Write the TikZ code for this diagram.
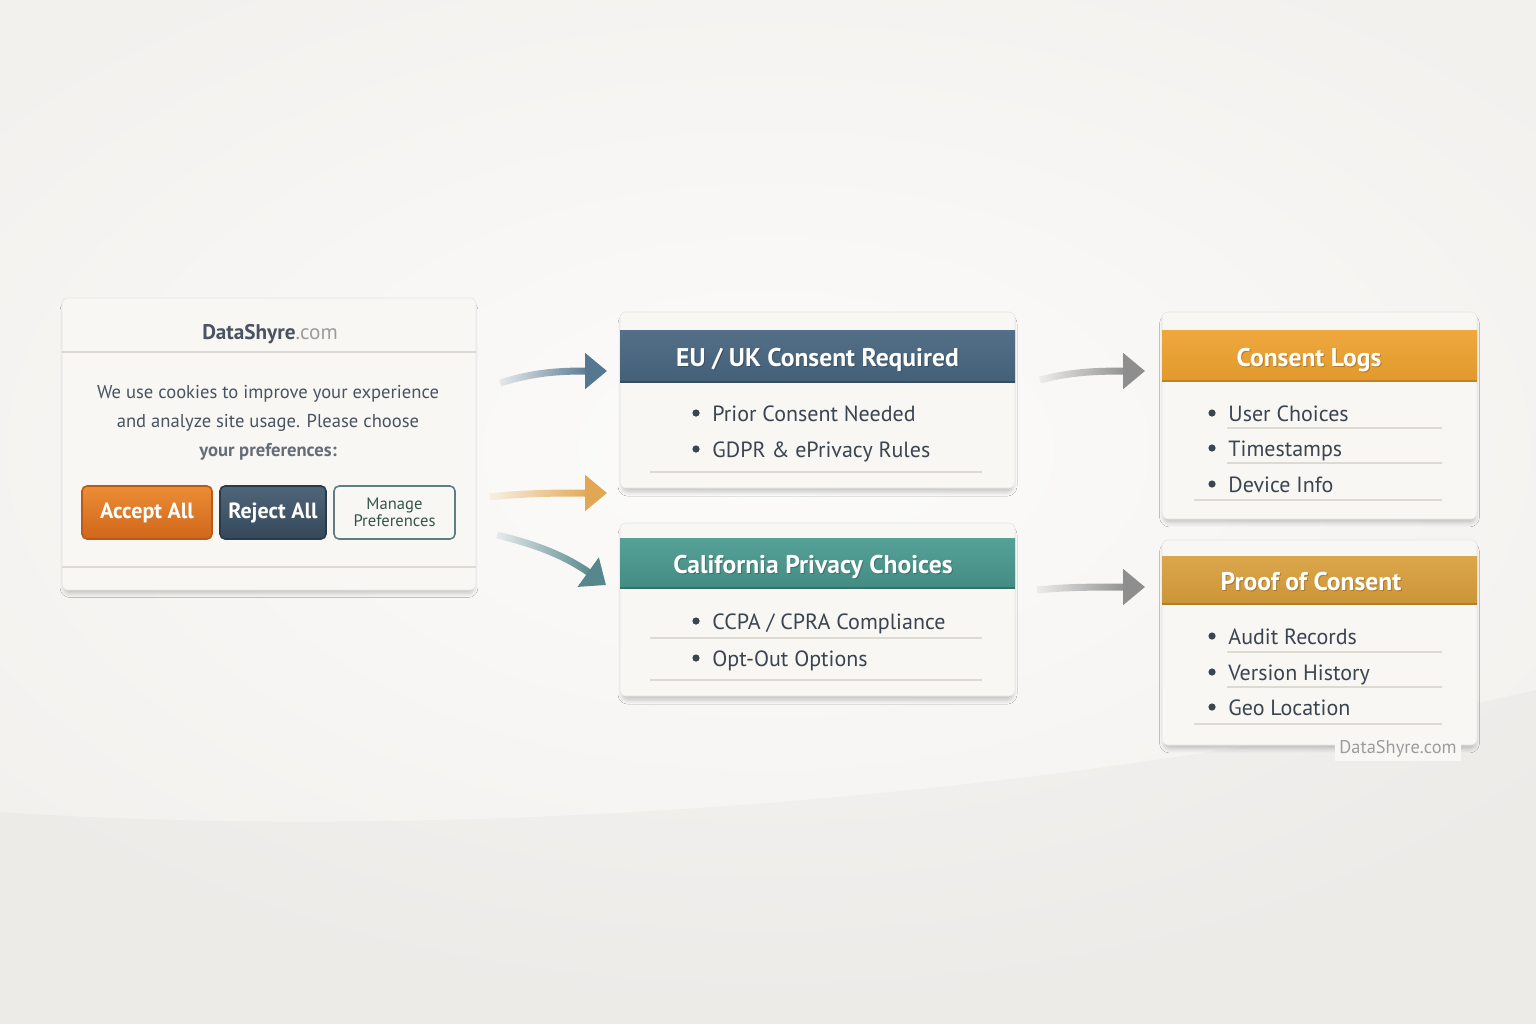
\documentclass[tikz,border=0pt]{standalone}
\usepackage{fontspec}
\setmainfont{PT Sans}
\usetikzlibrary{shadows.blur,fadings,arrows.meta,calc}
\definecolor{bgc}{HTML}{F3F1EE}
\definecolor{cardc}{HTML}{F8F7F4}
\definecolor{ink}{HTML}{3B4451}
\definecolor{slate}{HTML}{4A5361}
\definecolor{comgray}{HTML}{9C9C9C}
\definecolor{sepc}{HTML}{DDDAD4}
\definecolor{euA}{HTML}{546F88}
\definecolor{euB}{HTML}{445F78}
\definecolor{caA}{HTML}{56A197}
\definecolor{caB}{HTML}{438C83}
\definecolor{logA}{HTML}{EEA83E}
\definecolor{logB}{HTML}{E2992C}
\definecolor{prA}{HTML}{DCA74C}
\definecolor{prB}{HTML}{CC9437}
\definecolor{accA}{HTML}{EC8D35}
\definecolor{accB}{HTML}{D0661A}
\definecolor{accD}{HTML}{B85A1A}
\definecolor{rejA}{HTML}{4F6579}
\definecolor{rejB}{HTML}{34485A}
\definecolor{rejD}{HTML}{2A3A48}
\definecolor{manD}{HTML}{5E7E82}
\definecolor{manT}{HTML}{33564A}
\definecolor{arBlue}{HTML}{557790}
\definecolor{arGold}{HTML}{E2A752}
\definecolor{arTeal}{HTML}{56878D}
\definecolor{arGray}{HTML}{8E8E8E}
\tikzfading[name=tailfade, left color=transparent!92, right color=transparent!0]
\tikzset{
  card/.style={rectangle, rounded corners=3pt, fill=cardc, draw=black!10, line width=0.3pt,
    blur shadow={shadow xshift=0pt, shadow yshift=-2.5pt, shadow blur radius=2pt, shadow opacity=20, shadow scale=0.99},
    inner sep=0pt},
  ttl/.style={anchor=base, text=white, inner sep=0pt, font=\bfseries\fontsize{12.8}{15}\selectfont},
  ttlsh/.style={anchor=base, text=black, opacity=0.22, inner sep=0pt, font=\bfseries\fontsize{12.8}{15}\selectfont},
  itemtxt/.style={anchor=base west, inner sep=0pt, text=ink, font=\fontsize{11}{13}\selectfont},
  dotb/.style={circle, fill=ink, inner sep=0pt, minimum size=3.6pt},
  sep/.style={draw=sepc, line width=0.6pt},
  btn/.style={rectangle, rounded corners=2.5pt, minimum height=26.5pt, inner sep=0pt, line width=0.8pt},
  shaft/.style={line width=3.5pt, path fading=tailfade},
  tip/.style={line width=3.5pt, -{Triangle[length=11pt,width=17.5pt]}},
}
\newcommand\bitem[4]{%
  \node[dotb] (#1d) at (#2-16,#3) {};
  \node[itemtxt] (#1) at (#2,#3+8) {#4};}
\newcommand\ttlnode[4]{%
  \node[ttlsh] (#1s) at (#2+1,#3+10.5) {#4};
  \node[ttl] (#1) at (#2,#3+9) {#4};}
\begin{document}
\begin{tikzpicture}[x=0.5pt,y=-0.5pt]
\useasboundingbox (0,0) rectangle (1536,1024);
% background
\fill[bgc] (0,0) rectangle (1536,1024);
\begin{scope}
  \clip (0,0) rectangle (1536,1024);
  \shade[inner color=white!75!bgc, outer color=bgc] (768,450) ellipse (1000 and 560);
  \fill[black, opacity=0.022] (0,812) .. controls (500,845) and (1100,790) .. (1536,690) -- (1536,1024) -- (0,1024) -- cycle;
\end{scope}

% cookie card
\node[card, minimum width=207pt, minimum height=146pt] (cookie) at (269,444) {};
\draw[sep] (62,352) -- (476,352);
\draw[sep] (62,567) -- (476,567);
\node[text=slate, font=\bfseries\fontsize{10.6}{12}\selectfont] (brand) at (270,334)
  {DataShyre\textcolor{comgray}{\mdseries .com}};
\node[text=slate, align=center, font=\fontsize{9.3}{14.5}\selectfont] (msg) at (268,423)
  {We use cookies to improve your experience\\and analyze site usage. Please choose\\\textcolor{slate!85}{\textbf{your preferences:}}};
\node[btn, minimum width=65pt, top color=accA, bottom color=accB, draw=accD, text=white,
  font=\bfseries\fontsize{11}{13}\selectfont] (accept) at (147,512.5) {Accept All};
\node[btn, minimum width=53pt, top color=rejA, bottom color=rejB, draw=rejD, text=white,
  font=\bfseries\fontsize{11}{13}\selectfont] (reject) at (273,512.5) {Reject All};
\node[btn, minimum width=60.5pt, fill=cardc, draw=manD, text=manT, align=center,
  font=\fontsize{8.3}{8.5}\selectfont] (manage) at (394.5,512.5) {Manage\\Preferences};

% EU card
\node[card, minimum width=197.5pt, minimum height=88pt] (eu) at (817.5,400) {};
\shade[top color=euA, bottom color=euB] (620,330) rectangle (1015,382);
\draw[euB!80!black, line width=0.7pt] (620,382) -- (1015,382);
\ttlnode{eut}{817.5}{357}{EU / UK Consent Required}
\bitem{eu1}{712}{413}{Prior Consent Needed}
\bitem{eu2}{712}{449}{GDPR \& ePrivacy Rules}
\draw[sep] (650,472) -- (982,472);

% California card
\node[card, minimum width=197.5pt, minimum height=86.5pt] (ca) at (817.5,609.5) {};
\shade[top color=caA, bottom color=caB] (620,538) rectangle (1015,588);
\draw[caB!80!black, line width=0.7pt] (620,588) -- (1015,588);
\ttlnode{cat}{813}{564}{California Privacy Choices}
\bitem{ca1}{712}{621}{CCPA / CPRA Compliance}
\bitem{ca2}{712}{658}{Opt-Out Options}
\draw[sep] (650,638) -- (982,638);
\draw[sep] (650,680) -- (982,680);

% Consent Logs card
\node[card, minimum width=157.5pt, minimum height=103.5pt] (logs) at (1319.5,415.5) {};
\shade[top color=logA, bottom color=logB] (1162,330) rectangle (1477,381);
\draw[logB!85!black, line width=0.7pt] (1162,381) -- (1477,381);
\ttlnode{logt}{1309}{357}{Consent Logs}
\bitem{lg1}{1228}{413}{User Choices}
\bitem{lg2}{1228}{448}{Timestamps}
\bitem{lg3}{1228}{484}{Device Info}
\draw[sep] (1227,428) -- (1442,428);
\draw[sep] (1227,463) -- (1442,463);
\draw[sep] (1194,500) -- (1442,500);

% Proof of Consent card
\node[card, minimum width=157.5pt, minimum height=102.5pt] (proof) at (1319.5,642.5) {};
\shade[top color=prA, bottom color=prB] (1162,556) rectangle (1477,604);
\draw[prB!85!black, line width=0.7pt] (1162,604) -- (1477,604);
\ttlnode{prt}{1311}{581}{Proof of Consent}
\bitem{pr1}{1228}{636}{Audit Records}
\bitem{pr2}{1228}{672}{Version History}
\bitem{pr3}{1228}{707}{Geo Location}
\draw[sep] (1227,652) -- (1442,652);
\draw[sep] (1227,687) -- (1442,687);
\draw[sep] (1194,724) -- (1442,724);

\node[fill=cardc, inner sep=2pt, text=comgray, font=\fontsize{9.2}{11}\selectfont] (wm) at (1398,749) {DataShyre.com};

% arrows
\coordinate (a1s) at (500,383);  \coordinate (a1m) at (586,371); \coordinate (a1e) at (607,371);
\coordinate (a2s) at (490,497);  \coordinate (a2m) at (586,493); \coordinate (a2e) at (607,493);
\coordinate (a3s) at (497,535);  \coordinate (a3m) at (588,572); \coordinate (a3e) at (606,585);
\coordinate (a4s) at (1040,380); \coordinate (a4m) at (1124,371); \coordinate (a4e) at (1145,371);
\coordinate (a5s) at (1037,590); \coordinate (a5m) at (1124,587); \coordinate (a5e) at (1145,587);
\draw[shaft, arBlue] (a1s) .. controls (535,372) and (560,371) .. ([xshift=1pt]a1m);
\draw[tip, arBlue] (a1m) -- (a1e);
\draw[shaft, arGold] (a2s) .. controls (525,493) and (555,493) .. ([xshift=1pt]a2m);
\draw[tip, arGold] (a2m) -- (a2e);
\draw[shaft, arTeal] (a3s) .. controls (530,543) and (560,553) .. ($(a3m)!-0.08!(a3e)$) -- ($(a3m)!0.12!(a3e)$);
\draw[tip, arTeal] (a3m) -- (a3e);
\draw[shaft, arGray] (a4s) .. controls (1070,372) and (1095,371) .. ([xshift=1pt]a4m);
\draw[tip, arGray] (a4m) -- (a4e);
\draw[shaft, arGray] (a5s) .. controls (1065,587) and (1095,587) .. ([xshift=1pt]a5m);
\draw[tip, arGray] (a5m) -- (a5e);
\end{tikzpicture}
\end{document}
